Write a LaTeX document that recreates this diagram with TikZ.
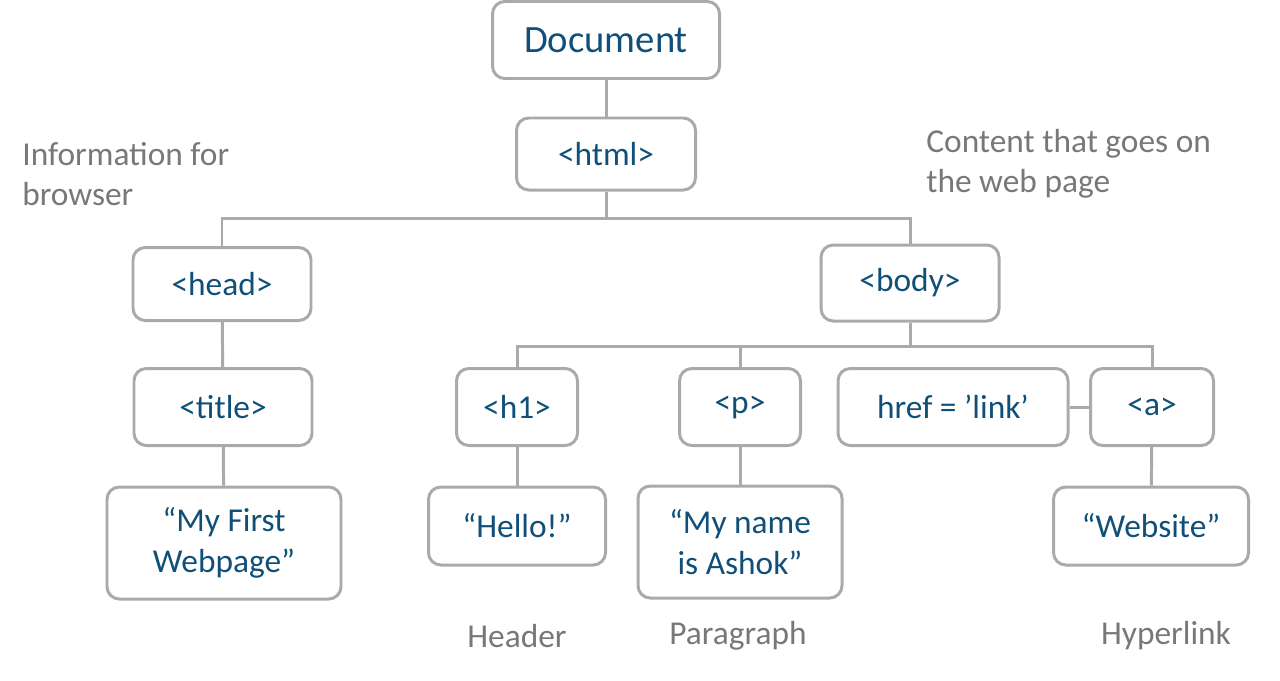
\documentclass[tikz,border=0pt]{standalone}
\usepackage{fontspec}
\setmainfont{Carlito}
\usetikzlibrary{positioning}
\definecolor{boxgray}{RGB}{170,170,170}
\definecolor{tagblue}{RGB}{16,80,120}
\definecolor{notegray}{RGB}{120,120,120}
\begin{document}
\begin{tikzpicture}[x=0.02cm,y=-0.02cm,
  tag/.style={draw=boxgray, line width=1.7pt, rounded corners=7pt, text=tagblue,
              font=\fontsize{19}{23}\selectfont, align=center, inner sep=0pt},
  note/.style={text=notegray, font=\fontsize{19}{23}\selectfont, align=left, inner sep=0pt},
  link/.style={draw=boxgray, line width=1.7pt}]
	\useasboundingbox (0,0) rectangle (1280,680);

	\node[tag, minimum width=227*0.02cm, minimum height=77*0.02cm, font=\fontsize{22}{26}\selectfont] (doc) at (606,40) {Document};
	\node[tag, minimum width=179*0.02cm, minimum height=72*0.02cm] (html) at (606,154) {<html>};
	\node[tag, minimum width=178*0.02cm, minimum height=73*0.02cm] (head) at (222,284) {<head>};
	\node[tag, minimum width=178*0.02cm, minimum height=76*0.02cm] (body) at (910,283) {<body>};
	\node[tag, minimum width=178*0.02cm, minimum height=77*0.02cm] (title) at (223,407) {<title>};
	\node[tag, minimum width=121*0.02cm, minimum height=77*0.02cm] (h1) at (517,407) {<h1>};
	\node[tag, minimum width=121*0.02cm, minimum height=77*0.02cm] (p) at (740,407) {<p>};
	\node[tag, minimum width=230*0.02cm, minimum height=77*0.02cm] (href) at (953,407) {href = 'link'};
	\node[tag, minimum width=123*0.02cm, minimum height=77*0.02cm] (a) at (1152,407) {<a>};
	\node[tag, minimum width=234*0.02cm, minimum height=112*0.02cm] (webpage) at (224,543) {“My First\\Webpage”};
	\node[tag, minimum width=177*0.02cm, minimum height=78*0.02cm] (hello) at (517,526) {“Hello!”};
	\node[tag, minimum width=204*0.02cm, minimum height=112*0.02cm] (name) at (740,542) {“My name\\is Ashok”};
	\node[tag, minimum width=195*0.02cm, minimum height=78*0.02cm] (website) at (1151,526) {“Website”};

	\node[note, anchor=north west] (info) at (22,142) {Information for\\browser};
	\node[note, anchor=north west] (content) at (926,129) {Content that goes on\\the web page};
	\node[note] (header) at (517,636) {Header};
	\node[note] (para) at (738,636) {Paragraph};
	\node[note] (hyper) at (1166,636) {Hyperlink};

	\draw[link] (doc) -- (html);
	\draw[link] (html.south) -- ++(0,27) -| (head.north);
	\draw[link] (html.south) -- ++(0,27) -| (body.north);
	\draw[link] (body.south) -- ++(0,24) -| (h1.north);
	\draw[link] (body.south) -- ++(0,24) -| (p.north);
	\draw[link] (body.south) -- ++(0,24) -| (a.north);
	\draw[link] (href) -- (a);
	\draw[link] (head) -- (title);
	\draw[link] (title) -- (webpage);
	\draw[link] (h1) -- (hello);
	\draw[link] (p) -- (name);
	\draw[link] (a) -- (website);
\end{tikzpicture}
\end{document}
